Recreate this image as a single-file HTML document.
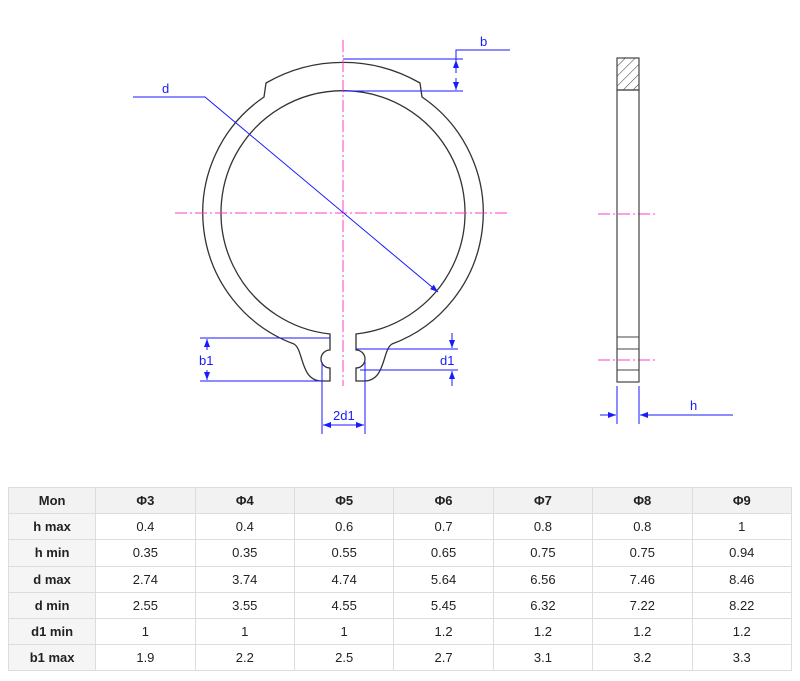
<!DOCTYPE html>
<html><head><meta charset="utf-8"><style>
body{margin:0;background:#fff;width:800px;height:681px;overflow:hidden;position:relative;font-family:"Liberation Sans",sans-serif}
svg{position:absolute;left:0;top:0}
table{position:absolute;left:8px;top:487px;border-collapse:collapse;width:784px;font-size:13px;color:#222}
td{border:1.5px solid #ddd;height:25.2px;text-align:center;padding:0;width:99.4px}
td:first-child{width:87px;font-weight:bold;background:#f5f5f5}
tr:first-child td{background:#f2f2f2;font-weight:bold}
</style></head><body>
<svg width="800" height="480" viewBox="0 0 800 480">
<defs>
<marker id="a" markerWidth="8" markerHeight="6" refX="8" refY="3" orient="auto" markerUnits="userSpaceOnUse"><path d="M0,0 L8,3 L0,6z" fill="#1a1aff"/></marker>
<pattern id="h" width="7" height="7" patternUnits="userSpaceOnUse" patternTransform="rotate(45)"><line x1="0" y1="0" x2="0" y2="7" stroke="#333" stroke-width="1"/></pattern>
</defs>
<!-- ring -->
<path fill="none" stroke="#333" stroke-width="1.3" d="M330,334 A122,122 0 1 1 356,334 L356,350 A9,9 0 0 1 356,368 L356,381 L364,381 C386,381 382,350 392,344 A140,140 0 0 0 422,97 L420,83 A154,154 0 0 0 266,83 L264,97 A140,140 0 0 0 294,344 C304,350 300,381 322,381 L330,381 L330,368 A9,9 0 0 1 330,350 Z"/>
<!-- center lines -->
<g stroke="#ff3cc8" stroke-width="1" stroke-dasharray="12,3,2,3" fill="none">
<line x1="343" y1="40" x2="343" y2="386"/>
<line x1="175" y1="213" x2="510" y2="213"/>
<line x1="598" y1="214" x2="657" y2="214"/>
<line x1="598" y1="360" x2="657" y2="360"/>
</g>
<!-- side view -->
<rect x="617" y="90" width="22" height="292" fill="none" stroke="#444" stroke-width="1.2"/>
<rect x="617" y="58" width="22" height="32" fill="url(#h)" stroke="#444" stroke-width="1.2"/>
<g stroke="#444" stroke-width="1"><line x1="617" y1="337" x2="639" y2="337"/><line x1="617" y1="349" x2="639" y2="349"/><line x1="617" y1="370" x2="639" y2="370"/></g>
<!-- dims -->
<g stroke="#1a1aff" stroke-width="1" fill="none">
<polyline points="133,97 205,97 438,292" marker-end="url(#a)"/>
<line x1="343" y1="59" x2="463" y2="59"/><line x1="343" y1="91" x2="463" y2="91"/>
<polyline points="456,73 456,50 510,50"/>
<line x1="456" y1="73" x2="456" y2="60" marker-end="url(#a)"/><line x1="456" y1="78" x2="456" y2="90" marker-end="url(#a)"/>
<line x1="200" y1="338" x2="330" y2="338"/><line x1="200" y1="381" x2="322" y2="381"/>
<line x1="207" y1="350" x2="207" y2="339" marker-end="url(#a)"/><line x1="207" y1="370" x2="207" y2="380" marker-end="url(#a)"/>
<line x1="356" y1="349" x2="458" y2="349"/><line x1="360" y1="370" x2="458" y2="370"/>
<line x1="452" y1="333" x2="452" y2="348" marker-end="url(#a)"/><line x1="452" y1="386" x2="452" y2="371" marker-end="url(#a)"/>
<line x1="322" y1="362" x2="322" y2="434"/><line x1="365" y1="362" x2="365" y2="434"/>
<line x1="343" y1="425" x2="323" y2="425" marker-end="url(#a)"/><line x1="343" y1="425" x2="364" y2="425" marker-end="url(#a)"/>
<line x1="617" y1="386" x2="617" y2="424"/><line x1="639" y1="386" x2="639" y2="424"/>
<line x1="600" y1="415" x2="616" y2="415" marker-end="url(#a)"/><line x1="733" y1="415" x2="640" y2="415" marker-end="url(#a)"/>
</g>
<g fill="#1a1aff" font-family="Liberation Sans,sans-serif" font-size="13">
<text x="162" y="93">d</text><text x="480" y="46">b</text><text x="199" y="365">b1</text>
<text x="440" y="365">d1</text><text x="333" y="420">2d1</text><text x="690" y="410">h</text>
</g>
</svg>
<table>
<tr><td>Mon</td><td>Φ3</td><td>Φ4</td><td>Φ5</td><td>Φ6</td><td>Φ7</td><td>Φ8</td><td>Φ9</td></tr>
<tr><td>h max</td><td>0.4</td><td>0.4</td><td>0.6</td><td>0.7</td><td>0.8</td><td>0.8</td><td>1</td></tr>
<tr><td>h min</td><td>0.35</td><td>0.35</td><td>0.55</td><td>0.65</td><td>0.75</td><td>0.75</td><td>0.94</td></tr>
<tr><td>d max</td><td>2.74</td><td>3.74</td><td>4.74</td><td>5.64</td><td>6.56</td><td>7.46</td><td>8.46</td></tr>
<tr><td>d min</td><td>2.55</td><td>3.55</td><td>4.55</td><td>5.45</td><td>6.32</td><td>7.22</td><td>8.22</td></tr>
<tr><td>d1 min</td><td>1</td><td>1</td><td>1</td><td>1.2</td><td>1.2</td><td>1.2</td><td>1.2</td></tr>
<tr><td>b1 max</td><td>1.9</td><td>2.2</td><td>2.5</td><td>2.7</td><td>3.1</td><td>3.2</td><td>3.3</td></tr>
</table>
</body></html>
